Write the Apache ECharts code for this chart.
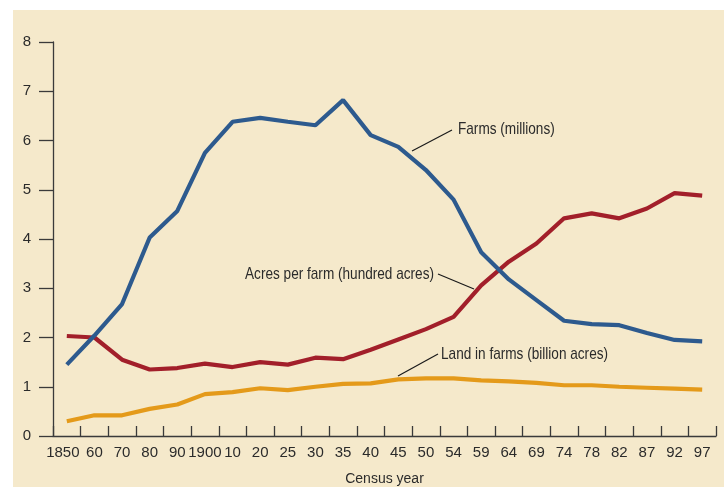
<!DOCTYPE html>
<html>
<head>
<meta charset="utf-8">
<script src="https://cdn.jsdelivr.net/npm/echarts@6/dist/echarts.min.js"></script>
<style>
html,body{margin:0;padding:0;background:#fff;}
#c{width:724px;height:487px;}
</style>
</head>
<body>
<div id="c"></div>
<script>
const categories = ['1850','60','70','80','90','1900','10','20','25','30','35','40','45','50','54','59','64','69','74','78','82','87','92','97'];
const farms = [1.45,2.04,2.68,4.03,4.57,5.75,6.38,6.46,6.38,6.31,6.82,6.11,5.87,5.40,4.80,3.73,3.18,2.76,2.34,2.27,2.25,2.09,1.95,1.92];
const acresPerFarm = [2.03,2.00,1.55,1.35,1.38,1.47,1.40,1.50,1.45,1.59,1.56,1.75,1.96,2.17,2.42,3.06,3.54,3.91,4.42,4.52,4.42,4.62,4.93,4.88];
const landInFarms = [0.30,0.42,0.42,0.55,0.64,0.85,0.89,0.97,0.93,1.00,1.06,1.07,1.15,1.17,1.17,1.13,1.11,1.08,1.03,1.03,1.00,0.98,0.96,0.94];
const yTicks = [0,1,2,3,4,5,6,7,8];

const FONT = "'Liberation Sans',Arial,sans-serif";
const TXT = '#2b2b2b';
const SX = 0.8;

const chart = echarts.init(document.getElementById('c'), null, {renderer:'canvas'});
function note(x, y, text, align) {
  return {type:'text', z:10, x:x, y:y, scaleX:SX, scaleY:1,
    style:{x:0, y:0, text:text, font:"17px "+FONT, fill:TXT, verticalAlign:'middle', textAlign:align}};
}
const xData = categories.map((c, i) => i === 0 ? {value:c, textStyle:{padding:[0,8,0,0]}} : c);
chart.setOption({
  backgroundColor: '#ffffff',
  animation: false,
  grid: {left:53, right:8, top:42, bottom:51, containLabel:false, outerBoundsMode:'none'},
  xAxis: {
    type:'category',
    data: xData,
    boundaryGap: true,
    name: 'Census year',
    nameLocation: 'middle',
    nameGap: 36,
    nameTextStyle: {fontFamily: FONT, fontSize: 14, color: TXT},
    axisLine: {show:true, lineStyle:{color:'#3a3a3a', width:1.3}},
    axisTick: {show:true, inside:true, length:10, alignWithLabel:false, lineStyle:{color:'#3a3a3a', width:1.3}},
    axisLabel: {fontFamily: FONT, fontSize: 15, color: TXT, margin: 9, interval:0},
    splitLine: {show:false}
  },
  yAxis: {
    type:'value',
    min: yTicks[0],
    max: yTicks[yTicks.length-1],
    interval: 1,
    axisLine: {show:true, lineStyle:{color:'#3a3a3a', width:1.3}},
    axisTick: {show:true, inside:false, length:14, lineStyle:{color:'#3a3a3a', width:1.3}},
    axisLabel: {fontFamily: FONT, fontSize: 15, color: TXT, margin: 22},
    splitLine: {show:false}
  },
  graphic: [
    {type:'rect', z:-10, silent:true, shape:{x:13, y:10, width:711, height:477}, style:{fill:'#F5E9CB'}},
    {type:'line', z:10, shape:{x1:452, y1:130, x2:412, y2:151}, style:{stroke:'#1a1a1a', lineWidth:1.2}},
    note(458, 129, 'Farms (millions)', 'left'),
    {type:'line', z:10, shape:{x1:438, y1:274, x2:474, y2:289}, style:{stroke:'#1a1a1a', lineWidth:1.2}},
    note(434, 274, 'Acres per farm (hundred acres)', 'right'),
    {type:'line', z:10, shape:{x1:438, y1:354, x2:398, y2:376}, style:{stroke:'#1a1a1a', lineWidth:1.2}},
    note(441, 354, 'Land in farms (billion acres)', 'left')
  ],
  series: [
    {name:'Land in farms (billion acres)', type:'line', data: landInFarms, symbol:'none', lineStyle:{color:'#E49A1A', width:4.2}, itemStyle:{color:'#E49A1A'}},
    {name:'Acres per farm (hundred acres)', type:'line', data: acresPerFarm, symbol:'none', lineStyle:{color:'#A21F2A', width:4.2}, itemStyle:{color:'#A21F2A'}},
    {name:'Farms (millions)', type:'line', data: farms, symbol:'none', lineStyle:{color:'#2D5A8E', width:4.2}, itemStyle:{color:'#2D5A8E'}}
  ]
});
</script>
</body>
</html>
